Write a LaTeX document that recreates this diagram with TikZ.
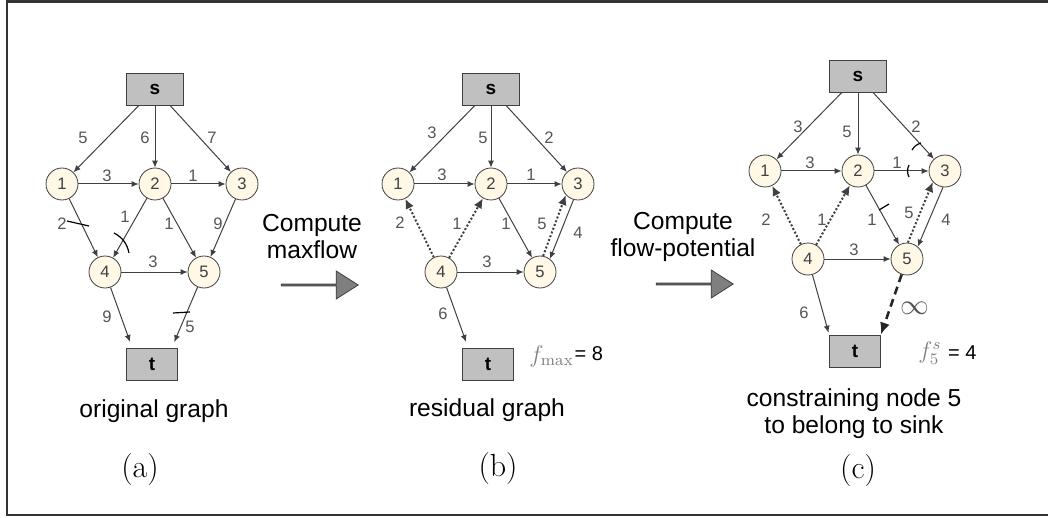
\documentclass[tikz,border=0pt]{standalone}
\usepackage{fontspec}
\newfontfamily\arial{Liberation Sans}
\usetikzlibrary{arrows.meta,shapes.arrows,positioning}
\definecolor{boxgray}{HTML}{C0C0C0}
\definecolor{linegray}{HTML}{404040}
\definecolor{cream}{HTML}{FFF8E6}
\definecolor{labelgray}{HTML}{555555}
\definecolor{arrowgray}{HTML}{7F7F7F}
\tikzset{
  term/.style     = {shape=rectangle, draw=linegray, fill=boxgray, minimum height=16pt,
                     inner sep=0pt, font=\arial\bfseries\fontsize{9.5}{10}\selectfont},
  termS/.style    = {term, minimum width=28.5pt},
  termT/.style    = {term, minimum width=25.5pt},
  vert/.style     = {circle, draw=linegray, fill=cream, minimum size=16pt, inner sep=0pt,
                     font=\arial\fontsize{8.3}{9}\selectfont, text=linegray},
  flow/.style     = {draw=linegray, line width=0.5pt, -{Latex[length=3.5pt,width=3pt]}},
  resid/.style    = {draw=linegray, line width=1pt, densely dotted, -{Latex[length=5pt,width=4.5pt]}},
  sinkedge/.style = {draw=black!85, line width=1.3pt, dash pattern=on 4pt off 2.5pt,
                     -{Latex[length=6pt,width=5pt]}},
  cutmark/.style  = {draw=black, line width=0.6pt},
  lbl/.style      = {font=\arial\fontsize{8.3}{9}\selectfont, text=labelgray, inner sep=0pt},
  valtxt/.style   = {font=\arial\fontsize{10}{11}\selectfont, inner sep=0pt},
  captxt/.style   = {font=\arial\fontsize{12.3}{13.5}\selectfont, align=center, inner sep=0pt},
  paneltag/.style = {font=\fontsize{16}{18}\selectfont, inner sep=0pt},
  bigarrow/.style = {single arrow, draw=linegray, fill=arrowgray, minimum height=38.5pt,
                     minimum width=14pt, single arrow head extend=3pt,
                     single arrow tip angle=65, inner sep=0pt},
}
% the seven nodes of one graph, names prefixed by #1
\newcommand{\flownodes}[1]{%
  \node[termS] (#1s) at (155,89) {s};
  \node[vert] (#11) at (62,184) {1};
  \node[vert] (#12) at (155,184) {2};
  \node[vert] (#13) at (242,184) {3};
  \node[vert] (#14) at (105,272) {4};
  \node[vert] (#15) at (204,272) {5};
  \node[termT] (#1t) at (152,364) {t};
}

\begin{document}
\begin{tikzpicture}[x=0.5pt, y=-0.5pt]
    \useasboundingbox (0,0) rectangle (1048,518);
    \draw[line width=1.2pt, draw=black!80] (1052,1.5) -- (7,1.5) -- (7,515) -- (1052,515);

    % (a) original graph
    \begin{scope}
        \flownodes{a}
        \draw[flow] (as) -- (a1);
        \draw[flow] (as) -- (a2);
        \draw[flow] (as) -- (a3);
        \draw[flow] (a1) -- (a2);
        \draw[flow] (a2) -- (a3);
        \draw[flow] (a1) -- (a4);
        \draw[flow] (a2) -- (a4);
        \draw[flow] (a2) -- (a5);
        \draw[flow] (a3) -- (a5);
        \draw[flow] (a4) -- (a5);
        \draw[flow, shorten >=3pt] (a4) -- ([xshift=3pt]at.north west);
        \draw[flow, shorten >=3pt] (a5) -- ([xshift=-3pt]at.north east);
    \end{scope}
    \draw[cutmark] (67,221) -- (89,226);
    \draw[cutmark] (114,233) to[bend left=25] (129,253);
    \draw[cutmark] (173,313) -- (190,312);

    % (b) residual graph
    \begin{scope}[shift={(336,0)}]
        \flownodes{b}
        \draw[flow] (bs) -- (b1);
        \draw[flow] (bs) -- (b2);
        \draw[flow] (bs) -- (b3);
        \draw[flow] (b1) -- (b2);
        \draw[flow] (b2) -- (b3);
        \draw[flow] (b2) -- (b5);
        \draw[flow] (b4) -- (b5);
        \draw[flow] (b3.254) -- (b5.53);
        \draw[resid] (b4) -- (b1);
        \draw[resid] (b4) -- (b2);
        \draw[resid] (b5.79) -- (b3.222);
        \draw[flow, shorten >=3pt] (b4) -- ([xshift=3pt]bt.north west);
    \end{scope}

    % (c) sink constrained
    \begin{scope}[shift={(703,-13)}]
        \flownodes{c}
        \draw[flow] (cs) -- (c1);
        \draw[flow] (cs) -- (c2);
        \draw[flow] (cs) -- (c3);
        \draw[flow] (c1) -- (c2);
        \draw[flow] (c2) -- (c3);
        \draw[flow] (c2) -- (c5);
        \draw[flow] (c4) -- (c5);
        \draw[flow] (c3.263) -- (c5.49);
        \draw[resid] (c4) -- (c1);
        \draw[resid] (c4) -- (c2);
        \draw[resid] (c5.87) -- (c3.222);
        \draw[flow, shorten >=1pt] (c4) -- (ct.north west);
        \draw[sinkedge] (c5) -- (ct.north east);
    \end{scope}
    \draw[cutmark] (912,150) to[bend left=20] (921,143);
    \draw[cutmark] (909,165) to[bend right=25] (909,177);
    \draw[cutmark] (879,210) -- (889,204);

    % edge labels
    \foreach \px/\py/\txt [count=\i] in {83/138/5, 145/138/6, 212/138/7, 107/176/3, 193/176/1,
        62/224/2, 125/217/1, 169/224/1, 218/224/9, 153/262/3, 107/317/9, 190/327/5}
        \node[lbl] (la\i) at (\px,\py) {\txt};
    \foreach \px/\py/\txt [count=\i] in {432/133/3, 483/138/5, 549/138/2, 442/175/3, 531/175/1,
        400/223/2, 457/224/1, 506/224/1, 542/224/5, 578/233/4, 487/262/3, 443/314/6}
        \node[lbl] (lb\i) at (\px,\py) {\txt};
    \foreach \px/\py/\txt [count=\i] in {798/127/3, 847/132/5, 916/127/2, 810/163/3, 897/163/1,
        766/220/2, 822/220/1, 872/220/1, 909/213/5, 946/220/4, 854/250/3, 804/313/6}
        \node[lbl] (lc\i) at (\px,\py) {\txt};
    \node[lbl, font=\fontsize{14}{14}\selectfont] (inf) at (915,308) {$\infty$};

    % steps between the graphs
    \node[captxt] (cmpab) at (312,237) {Compute\\maxflow};
    \node[bigarrow] (arrab) at (319,285) {};
    \node[captxt] (cmpbc) at (683,237) {Compute\\flow-potential};
    \node[bigarrow] (arrbc) at (694,284) {};

    % values
    \node[anchor=west, inner sep=0pt, font=\fontsize{11.5}{12}\selectfont] (fmax) at (529,356)
        {\textcolor{gray}{$f_{\max}$}};
    \node[right=0pt of fmax.east, anchor=west, valtxt, yshift=1pt] (fmaxval) {= 8};
    \node[anchor=west, inner sep=0pt, font=\fontsize{11.5}{12}\selectfont] (fsink) at (918,353)
        {\textcolor{gray}{$f_5^s$}};
    \node[right=3pt of fsink.east, anchor=west, valtxt] (fsinkval) {= 4};

    % captions
    \node[captxt] (capa) at (154,411) {original graph};
    \node[captxt] (capb) at (487,410) {residual graph};
    \node[captxt] (capc) at (854,414) {constraining node 5\\to belong to sink};
    \node[paneltag] (taga) at (140,470) {(a)};
    \node[paneltag] (tagb) at (498,469) {(b)};
    \node[paneltag] (tagc) at (858,471) {(c)};
\end{tikzpicture}
\end{document}
